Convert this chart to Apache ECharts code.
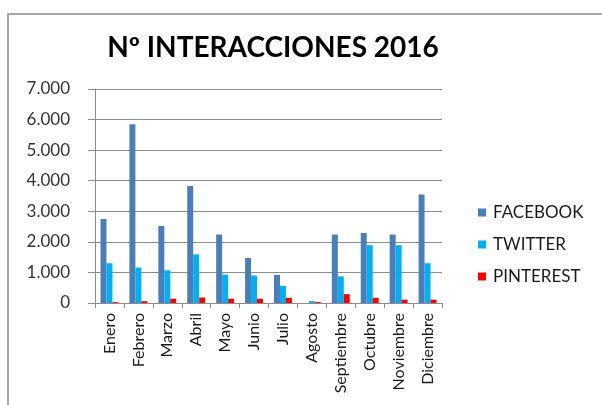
<!DOCTYPE html>
<html>
<head>
<meta charset="utf-8">
<script src="https://cdn.jsdelivr.net/npm/echarts@6/dist/echarts.min.js"></script>
<style>
  html, body { margin: 0; padding: 0; background: #fff; }
  #chart { width: 602px; height: 405px; }
</style>
</head>
<body>
<div id="chart"></div>
<script>
// meses
const meses = ['Enero', 'Febrero', 'Marzo', 'Abril', 'Mayo', 'Junio', 'Julio',
  'Agosto', 'Septiembre', 'Octubre', 'Noviembre', 'Diciembre']

// interacciones por red social
const facebook = [2750, 5850, 2520, 3830, 2240, 1470, 920, 0, 2240, 2290, 2240, 3550]
const twitter = [1300, 1160, 1070, 1590, 930, 900, 560, 60, 870, 1890, 1890, 1300]
const pinterest = [30, 60, 140, 180, 140, 140, 170, 30, 290, 170, 110, 110]

const fontFam = 'Lato, "Liberation Sans", sans-serif'

// 7000 -> "7.000"
const puntoMiles = v => String(v).replace(/\B(?=(\d{3})+(?!\d))/g, '.')

const chart = echarts.init(document.getElementById('chart'))
chart.setOption({
  animation: false,
  textStyle: {fontFamily: fontFam},
  title: {
    text: 'Nº INTERACCIONES 2016',
    left: 268,
    top: 29,
    textAlign: 'center',
    textStyle: {fontSize: 28, fontWeight: 'bold', color: '#000', fontFamily: fontFam}
  },
  // marco del gráfico
  graphic: [{
    type: 'rect',
    shape: {x: 8, y: 14, width: 700, height: 500},
    style: {fill: 'none', stroke: '#8c8c8c', lineWidth: 1.5}
  }],
  legend: {
    orient: 'vertical',
    left: 473,
    top: 199,
    itemWidth: 8,
    itemHeight: 8,
    itemGap: 15,
    icon: 'rect',
    textStyle: {fontSize: 17, color: '#1a1a1a', padding: [0, 0, 0, 2]},
    data: ['FACEBOOK', 'TWITTER', 'PINTEREST']
  },
  grid: {left: 95, right: 160, top: 89, bottom: 102},
  xAxis: {
    type: 'category',
    data: meses,
    axisLine: {lineStyle: {color: '#8c8c8c'}},
    axisTick: {show: true, length: 5, lineStyle: {color: '#8c8c8c'}},
    axisLabel: {rotate: 90, fontSize: 16, color: '#1a1a1a', margin: 10, interval: 0}
  },
  yAxis: {
    type: 'value',
    min: 0,
    max: 7000,
    interval: 1000,
    axisLine: {show: true, lineStyle: {color: '#8c8c8c'}},
    axisTick: {show: true, length: 7, lineStyle: {color: '#8c8c8c'}},
    splitLine: {lineStyle: {color: '#8c8c8c'}},
    axisLabel: {fontSize: 17, color: '#333', margin: 25, formatter: puntoMiles}
  },
  series: [
    {name: 'FACEBOOK', type: 'bar', data: facebook, itemStyle: {color: '#4a7ebb'},
      barGap: '0%', barCategoryGap: '38%'},
    {name: 'TWITTER', type: 'bar', data: twitter, itemStyle: {color: '#00b0f0'}},
    {name: 'PINTEREST', type: 'bar', data: pinterest, itemStyle: {color: '#ff0000'}}
  ]
})
</script>
</body>
</html>
